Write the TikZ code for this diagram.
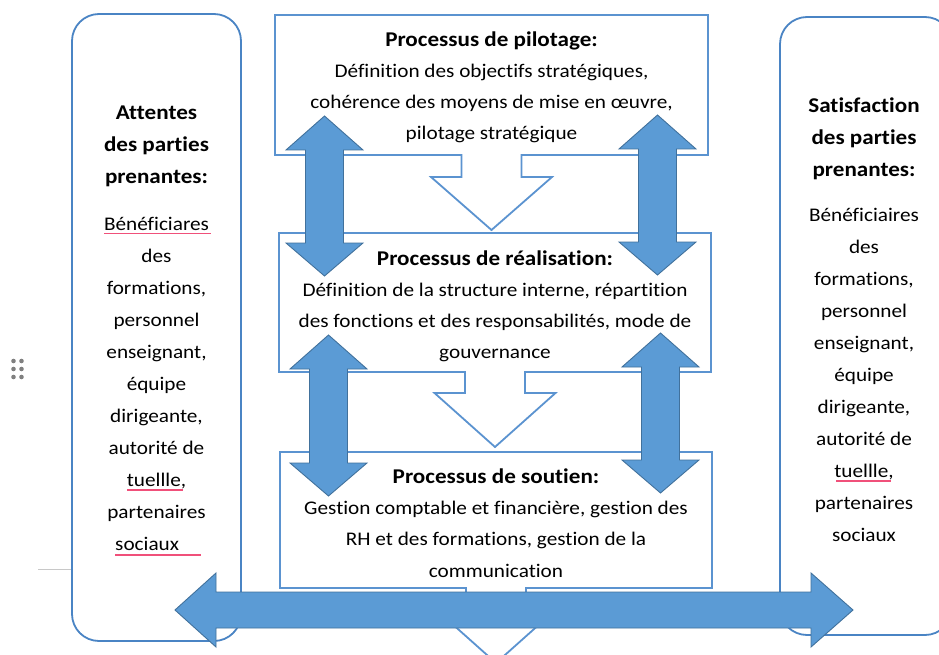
\documentclass[tikz,border=0pt]{standalone}
\usepackage{fontspec}
\setmainfont{Carlito}[FakeStretch=1.1,Ligatures=NoCommon]
\definecolor{boxblue}{HTML}{5B93D0}
\definecolor{sideblue}{HTML}{4A84C4}
\definecolor{arrowblue}{HTML}{5B9BD5}
\definecolor{arrowedge}{HTML}{41719C}
\definecolor{spellred}{HTML}{F0507A}
\definecolor{handlegrey}{HTML}{808080}
\definecolor{ruleline}{HTML}{C8C8C8}

% vertical double block arrow: centre x, upper tip y, lower tip y
\newcommand\vdoublearrow[3]{%
  \draw[bigarrow] (#1,#2) -- ({#1+38.5},{#2+34}) -- ({#1+19},{#2+34})
    -- ({#1+19},{#3-33}) -- ({#1+38.5},{#3-33}) -- (#1,#3)
    -- ({#1-38.5},{#3-33}) -- ({#1-19},{#3-33}) -- ({#1-19},{#2+34})
    -- ({#1-38.5},{#2+34}) -- cycle;}

% process box with a hollow down arrow below it:
% left, top, right, bottom, shaft end y, tip y
\newcommand\processbox[6]{%
  \draw[procbox] (#1,#2) -- (#3,#2) -- (#3,#4)
    -- ({(#1+#3)/2+30},#4) -- ({(#1+#3)/2+30},#5) -- ({(#1+#3)/2+60.5},#5)
    -- ({(#1+#3)/2},#6)
    -- ({(#1+#3)/2-60.5},#5) -- ({(#1+#3)/2-30},#5) -- ({(#1+#3)/2-30},#4)
    -- (#1,#4) -- cycle;}

\begin{document}
\begin{tikzpicture}[x=1pt,y=-1pt,line join=miter,
  procbox/.style={draw=boxblue,line width=1.8pt,fill=white},
  sidebox/.style={draw=sideblue,line width=1.8pt,fill=white,rounded corners=27pt},
  bigarrow/.style={fill=arrowblue,draw=arrowedge,line width=0.9pt},
  body/.style={inner sep=0pt,anchor=base,text=black,font=\fontsize{19.3}{23}\selectfont},
  head/.style={body,font=\fontsize{21}{25}\selectfont\bfseries},
  squiggle/.style={draw=spellred,line width=1.2pt}]

\useasboundingbox (0,0) rectangle (939,655);

% editor margin marks
\foreach \dx in {13.5,21.5}
  \foreach \dy in {361,369,377}
    \fill[handlegrey] (\dx,\dy) circle (2.3pt);
\coordinate (ruleA) at (38,569);
\coordinate (ruleB) at (72,569);
\draw[ruleline,line width=0.8pt] (ruleA) -- (ruleB);

% stakeholder columns
\begin{scope}
  \clip (0,0) rectangle (939,655);
  \draw[sidebox] (72,14) rectangle (241,641);
  \draw[sidebox] (780,17) rectangle (952,635);
\end{scope}

% the three processes
\processbox{275}{15}{708}{155}{177}{230}
\processbox{279}{233}{711}{372}{393}{447}
\begin{scope}
  \clip (0,0) rectangle (939,655);
  \processbox{280}{452}{712}{588}{609}{663}
\end{scope}

% process texts
\node[head] (pilT) at (491.5,47) {Processus de pilotage:};
\foreach \t [count=\i] in {{Définition des objectifs stratégiques,},
    {cohérence des moyens de mise en œuvre,},{pilotage stratégique}}
  \node[body] (pil-\i) at (491.5,{78+31*(\i-1)}) {\t};

\node[head] (reaT) at (495,265) {Processus de réalisation:};
\foreach \t [count=\i] in {{Définition de la structure interne, répartition},
    {des fonctions et des responsabilités, mode de},{gouvernance}}
  \node[body] (rea-\i) at (495,{296+31*(\i-1)}) {\t};

\node[head] (souT) at (496,483) {Processus de soutien:};
\foreach \t [count=\i] in {{Gestion comptable et financière, gestion des},
    {RH et des formations, gestion de la},{communication}}
  \node[body] (sou-\i) at (496,{514+31.5*(\i-1)}) {\t};

% left column
\foreach \t [count=\i] in {Attentes,des parties,prenantes:}
  \node[head] (att-\i) at (156.5,{119.5+32*(\i-1)}) {\t};
\foreach \t [count=\i] in {Bénéficiares,des,{formations,},personnel,{enseignant,},
    équipe,{dirigeante,},autorité de,{tuellle,},partenaires}
  \node[body] (attL-\i) at (156.5,{230+32*(\i-1)}) {\t};
\node[body,anchor=base west] (attL-11) at (115,550) {sociaux};

% right column
\foreach \t [count=\i] in {Satisfaction,des parties,prenantes:}
  \node[head] (sat-\i) at (864,{113+32*(\i-1)}) {\t};
\foreach \t [count=\i] in {Bénéficiaires,des,{formations,},personnel,{enseignant,},
    équipe,{dirigeante,},autorité de,{tuellle,},partenaires,sociaux}
  \node[body] (satL-\i) at (864,{222+31.9*(\i-1)}) {\t};

% spelling marks
\draw[squiggle] (104,233.5) -- (211,233.5);
\draw[squiggle] (127,490) -- (183,490);
\draw[squiggle] (115,555) -- (201,555);
\draw[squiggle] (836,481) -- (891,481);

% exchanges between the processes
\vdoublearrow{324.5}{116}{276}
\vdoublearrow{657.5}{115}{275}
\vdoublearrow{328.5}{335}{496}
\vdoublearrow{660.5}{333}{493}

% from expectations to satisfaction
\draw[bigarrow] (175,610) -- (216,573) -- (216,592) -- (811,592) -- (811,573)
  -- (853,610) -- (811,647) -- (811,628) -- (216,628) -- (216,647) -- cycle;

\end{tikzpicture}
\end{document}
